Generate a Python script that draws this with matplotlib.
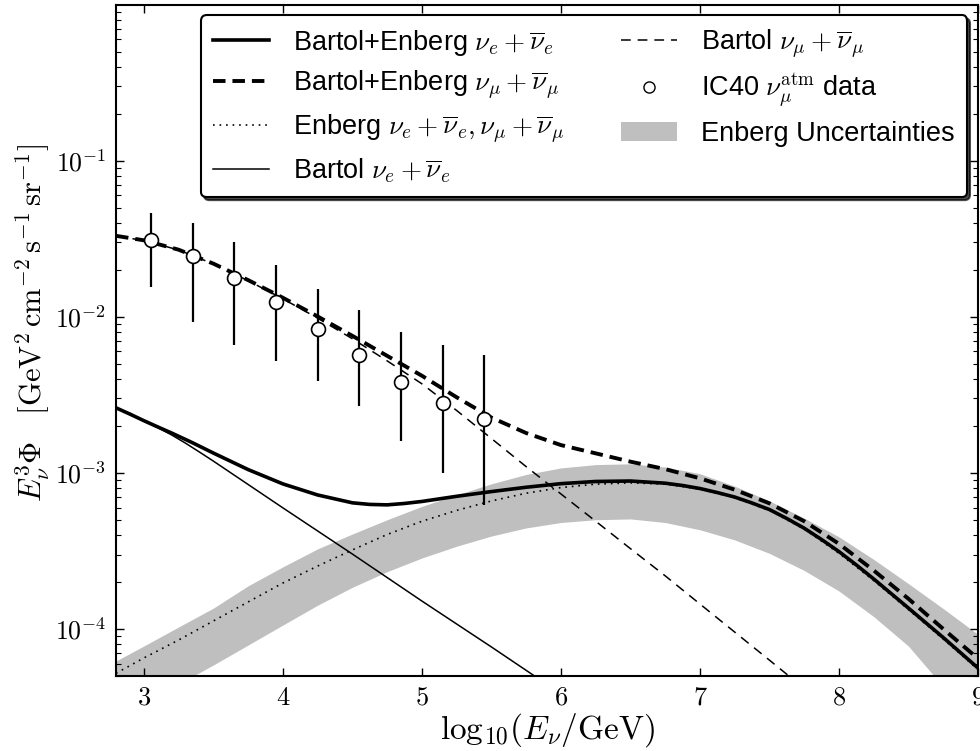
import matplotlib
matplotlib.use("Agg")
import matplotlib.pyplot as plt
from matplotlib.lines import Line2D
from matplotlib.patches import Patch

plt.rcParams['font.family'] = ['Liberation Sans', 'DejaVu Sans']
plt.rcParams['mathtext.fontset'] = 'cm'
plt.rcParams['lines.scale_dashes'] = False

# common energy grid, log10(E/GeV)
grid_x = [2.8, 3.0, 3.25, 3.5, 3.75, 4.0, 4.25, 4.5, 4.75, 5.0, 5.25, 5.5, 5.75,
          6.0, 6.25, 6.5, 6.75, 7.0, 7.25, 7.5, 7.75, 8.0, 8.25, 8.5, 8.75, 9.0]

# Bartol+Enberg nu_e (conventional + prompt)
be_nue_x = [2.8, 2.9, 3.0, 3.1, 3.2, 3.35, 3.5, 3.75, 4.0, 4.25, 4.5, 4.625, 4.75,
            4.875, 5.0, 5.25, 5.5, 5.75, 6.0, 6.25, 6.5, 6.75, 6.875, 7.0, 7.125,
            7.25, 7.375, 7.5, 7.625, 7.75, 7.875, 8.0, 8.125, 8.25, 8.5, 8.75, 9.0]
be_nue = [2.61e-3, 2.38e-3, 2.16e-3, 1.97e-3, 1.8e-3, 1.56e-3, 1.34e-3, 1.05e-3,
          8.5e-4, 7.22e-4, 6.43e-4, 6.28e-4, 6.24e-4, 6.37e-4, 6.56e-4, 7.08e-4,
          7.59e-4, 8.09e-4, 8.53e-4, 8.81e-4, 8.87e-4, 8.59e-4, 8.3e-4, 7.94e-4,
          7.48e-4, 7.0e-4, 6.41e-4, 5.82e-4, 5.1e-4, 4.42e-4, 3.74e-4, 3.13e-4,
          2.57e-4, 2.09e-4, 1.36e-4, 8.81e-5, 5.62e-5]

# Bartol+Enberg nu_mu
be_numu = [0.033, 0.0309, 0.0269, 0.0219, 0.01718, 0.01324, 0.01005, 0.00755,
           0.00562, 0.00419, 0.00305, 0.00226, 0.0018, 0.001507, 0.001334, 0.00118,
           0.001057, 9.23e-4, 7.8e-4, 6.38e-4, 4.9e-4, 3.51e-4, 2.37e-4, 1.56e-4,
           1.0e-4, 6.46e-5]

# Enberg prompt flux (same for nu_e and nu_mu)
enberg = [5.2e-5, 6.52e-5, 8.5e-5, 1.125e-4, 1.49e-4, 1.97e-4, 2.53e-4, 3.21e-4,
          4.03e-4, 4.9e-4, 5.75e-4, 6.61e-4, 7.41e-4, 8.05e-4, 8.47e-4, 8.63e-4,
          8.47e-4, 7.87e-4, 6.93e-4, 5.75e-4, 4.37e-4, 3.05e-4, 2.04e-4, 1.33e-4,
          8.61e-5, 5.5e-5]

# Enberg uncertainty band
enberg_hi = [6.24e-5, 7.78e-5, 1.03e-4, 1.36e-4, 1.89e-4, 2.5e-4, 3.26e-4, 4.06e-4,
             5.01e-4, 6.1e-4, 7.24e-4, 8.51e-4, 9.77e-4, 1.076e-3, 1.13e-3, 1.143e-3,
             1.09e-3, 9.88e-4, 8.22e-4, 6.61e-4, 5.13e-4, 3.89e-4, 2.79e-4, 1.95e-4,
             1.35e-4, 9.23e-5]
enberg_lo = [2.61e-5, 3.3e-5, 4.44e-5, 5.88e-5, 7.89e-5, 1.06e-4, 1.42e-4, 1.85e-4,
             2.33e-4, 2.85e-4, 3.39e-4, 3.94e-4, 4.44e-4, 4.81e-4, 5.01e-4, 5.07e-4,
             4.81e-4, 4.32e-4, 3.72e-4, 3.05e-4, 2.37e-4, 1.75e-4, 1.2e-4, 7.76e-5,
             4.27e-5, 2.19e-5]

# Bartol conventional nu_e
bartol_nue_x = [2.8, 2.9, 3.0, 3.1, 3.2, 3.3, 3.4, 3.5, 4.0, 4.5, 5.0, 5.5, 5.85]
bartol_nue = [2.61e-3, 2.37e-3, 2.15e-3, 1.95e-3, 1.75e-3, 1.55e-3, 1.36e-3,
              1.19e-3, 5.97e-4, 3.02e-4, 1.51e-4, 7.67e-5, 4.73e-5]

# Bartol conventional nu_mu
bartol_numu_x = [2.8, 3.0, 3.25, 3.5, 3.75, 4.0, 4.25, 4.5, 4.75, 5.0, 5.25, 5.5,
                 5.75, 6.0, 6.25, 6.5, 6.75, 7.0, 7.25, 7.5, 7.7]
bartol_numu = [0.0329, 0.0308, 0.0268, 0.0218, 0.01703, 0.01304, 0.0098, 0.00723,
               0.00522, 0.00372, 0.00251, 0.00166, 1.096e-3, 7.33e-4, 4.9e-4,
               3.27e-4, 2.19e-4, 1.445e-4, 9.55e-5, 6.31e-5, 4.52e-5]

# IC40 atmospheric nu_mu unfolded data
data_x = [3.05, 3.35, 3.65, 3.95, 4.25, 4.55, 4.85, 5.15, 5.45]
data_y = [0.0312, 0.0246, 0.0178, 0.0125, 0.0084, 0.0057, 0.0038, 0.0028, 0.0022]
data_hi = [0.0464, 0.0401, 0.0303, 0.0215, 0.0151, 0.0111, 0.0080, 0.0066, 0.0057]
data_lo = [0.0156, 0.0093, 0.0066, 0.0052, 0.0039, 0.0027, 0.0016, 0.0010, 0.00062]

xticks = [3, 4, 5, 6, 7, 8, 9]
yticks = [1e-4, 1e-3, 1e-2, 1e-1]
ytick_labels = [r"$10^{-4}$", r"$10^{-3}$", r"$10^{-2}$", r"$10^{-1}$"]

fig = plt.figure(figsize=(9.8, 7.51), dpi=100)
ax = fig.add_axes([0.1184, 0.0999, 0.8796, 0.894])

ax.fill_between(grid_x, enberg_lo, enberg_hi, color='0.75', lw=0, zorder=1)

l_b_e, = ax.plot(bartol_nue_x, bartol_nue, color='k', lw=1.1, zorder=3)
l_b_mu, = ax.plot(bartol_numu_x, bartol_numu, color='k', lw=1.1, ls='--',
                  dashes=(7, 5), zorder=3)
l_enb, = ax.plot(grid_x, enberg, color='k', lw=1.2, ls=':', dashes=(1.2, 3.5), zorder=3)
l_be_e, = ax.plot(be_nue_x, be_nue, color='k', lw=2.6, zorder=4)
l_be_mu, = ax.plot(grid_x, be_numu, color='k', lw=2.8, ls='--', dashes=(9, 5), zorder=4)

yerr = [[y - lo for y, lo in zip(data_y, data_lo)],
        [hi - y for y, hi in zip(data_y, data_hi)]]
ax.errorbar(data_x, data_y, yerr=yerr, fmt='o', ms=10, mfc='white', mec='k',
            mew=1.2, ecolor='k', elinewidth=1.6, capsize=0, zorder=5)
pt = Line2D([], [], ls='none', marker='o', ms=8, mfc='white', mec='k', mew=1.0)
band_patch = Patch(facecolor='0.75', edgecolor='none')

ax.set_yscale('log')
ax.set_xlim(2.8, 9.0)
ax.set_ylim(5e-5, 1.0)
ax.set_xticks(xticks, labels=[f"${t}$" for t in xticks])
ax.set_yticks(yticks, labels=ytick_labels)
ax.tick_params(which='both', direction='in', top=True, right=True, labelsize=19)
ax.tick_params(axis='y', labelsize=18.5)
ax.tick_params(which='major', length=6, width=1, pad=7)
ax.tick_params(which='minor', length=3.5, width=0.8)
ax.tick_params(axis='x', which='minor', bottom=False, top=False)
for s in ax.spines.values():
    s.set_linewidth(1.5)

ax.set_xlabel(r"$\mathrm{log}_{10}(E_\nu/\mathrm{GeV})$", fontsize=24, labelpad=1)
ax.set_ylabel(r"$E_\nu^3\Phi\quad[\mathrm{GeV}^2\,\mathrm{cm}^{-2}\,\mathrm{s}^{-1}\,\mathrm{sr}^{-1}]$",
              fontsize=22)
ax.yaxis.set_label_coords(-0.074, 0.525)

handles = [l_be_e, l_be_mu, l_enb, l_b_e, l_b_mu, pt, band_patch]
labels = [r"Bartol+Enberg $\nu_e+\overline{\nu}_e$",
          r"Bartol+Enberg $\nu_\mu+\overline{\nu}_\mu$",
          r"Enberg $\nu_e+\overline{\nu}_e, \nu_\mu+\overline{\nu}_\mu$",
          r"Bartol $\nu_e+\overline{\nu}_e$",
          r"Bartol $\nu_\mu+\overline{\nu}_\mu$",
          r"IC40 $\nu_\mu^{\mathrm{atm}}$ data",
          "Enberg Uncertainties"]
leg = ax.legend(handles, labels, loc='upper right', ncol=2, fontsize=19.5,
                shadow={'color': 'k', 'alpha': 0.7}, fancybox=True, framealpha=1,
                edgecolor='k', handlelength=2.05, handletextpad=0.9,
                columnspacing=2.1, labelspacing=0.42, borderpad=0.45,
                borderaxespad=0.4)
leg.get_frame().set_linewidth(1.5)

fig.savefig("out.png", dpi=100)
